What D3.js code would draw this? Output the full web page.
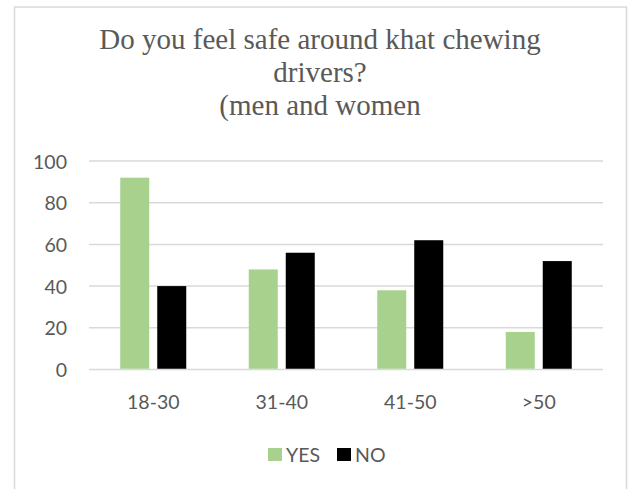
<!DOCTYPE html>
<html>
<head>
<meta charset="utf-8">
<script src="https://cdn.jsdelivr.net/npm/d3@7"></script>
<style>
  html, body { margin: 0; padding: 0; background: #fff; }
  svg { display: block; }
</style>
</head>
<body>
<svg id="chart" width="632" height="489"></svg>
<script>
// Survey answers by age group
const categories = ["18-30", "31-40", "41-50", ">50"];
const seriesNames = ["YES", "NO"];
const yesValues = [92, 48, 38, 18];
const noValues = [40, 56, 62, 52];
const yTicks = [0, 20, 40, 60, 80, 100];
const titleLines = ["Do you feel safe around khat chewing", "drivers?", "(men and women"];

const colors = { YES: "#a9d18e", NO: "#000000" };
const textColor = "#595959";
const gridColor = "#d9d9d9";

const W = 632, H = 489;
const plot = { left: 89, right: 603, top: 161, bottom: 369.5 };
const labelFont = "Lato, 'Open Sans', sans-serif";
const labelSize = 19.5;

const svg = d3.select("#chart");

// Outer chart-area border (open at the bottom edge of the view)
svg.append("path")
  .attr("d", `M14.5,${H + 2} L14.5,7 L626.5,7 L626.5,${H + 2}`)
  .attr("fill", "none")
  .attr("stroke", gridColor)
  .attr("stroke-width", 1.5);

// Title
const title = svg.append("text")
  .attr("text-anchor", "middle")
  .attr("font-family", "'Liberation Serif', 'Times New Roman', serif")
  .attr("font-size", 29)
  .attr("fill", textColor);
titleLines.forEach((t, i) => {
  title.append("tspan").attr("x", W / 2 + 4).attr("y", 49 + i * 33).text(t);
});

const y = d3.scaleLinear().domain([0, 100]).range([plot.bottom, plot.top]);
const x0 = d3.scaleBand().domain(categories).range([plot.left, plot.right]).padding(0);
const groupW = 66;
const x1 = d3.scaleBand().domain(seriesNames).range([0, groupW]).paddingInner(0.216).paddingOuter(0);

// Horizontal gridlines
svg.append("g")
  .selectAll("line")
  .data(yTicks)
  .join("line")
  .attr("x1", plot.left)
  .attr("x2", plot.right)
  .attr("y1", d => y(d))
  .attr("y2", d => y(d))
  .attr("stroke", gridColor)
  .attr("stroke-width", 1.5);

// Y axis labels
const yAxis = d3.axisLeft(y).tickValues(yTicks).tickSize(0).tickPadding(0);
const yG = svg.append("g")
  .attr("transform", `translate(67,0)`)
  .call(yAxis);
yG.select(".domain").remove();
yG.selectAll("text")
  .attr("font-family", labelFont)
  .attr("font-size", labelSize)
  .attr("fill", textColor)
  .attr("dy", "0.36em");

// Bars
const rows = categories.map((c, i) => ({ cat: c, YES: yesValues[i], NO: noValues[i] }));
const groups = svg.append("g")
  .selectAll("g")
  .data(rows)
  .join("g")
  .attr("transform", d => `translate(${x0(d.cat) + x0.bandwidth() / 2 - groupW / 2},0)`);

groups.selectAll("rect")
  .data(d => seriesNames.map(s => ({ s, v: d[s] })))
  .join("rect")
  .attr("x", d => x1(d.s))
  .attr("width", x1.bandwidth())
  .attr("y", d => y(d.v))
  .attr("height", d => y(0) - y(d.v) - 0.75)
  .attr("fill", d => colors[d.s]);

// X axis labels
const xAxis = d3.axisBottom(x0).tickSize(0).tickPadding(0);
const xG = svg.append("g")
  .attr("transform", `translate(0,409)`)
  .call(xAxis);
xG.select(".domain").remove();
xG.selectAll("text")
  .attr("font-family", labelFont)
  .attr("font-size", labelSize)
  .attr("fill", textColor)
  .attr("dy", 0);

// Legend
const legendItems = [
  { s: "YES", x: 268 },
  { s: "NO", x: 337 }
];
const leg = svg.append("g");
legendItems.forEach(item => {
  leg.append("rect")
    .attr("x", item.x)
    .attr("y", 448)
    .attr("width", 14)
    .attr("height", 13)
    .attr("fill", colors[item.s]);
  leg.append("text")
    .attr("x", item.x + 18)
    .attr("y", 462)
    .attr("font-family", labelFont)
    .attr("font-size", labelSize)
    .attr("fill", textColor)
    .text(item.s);
});
</script>
</body>
</html>
